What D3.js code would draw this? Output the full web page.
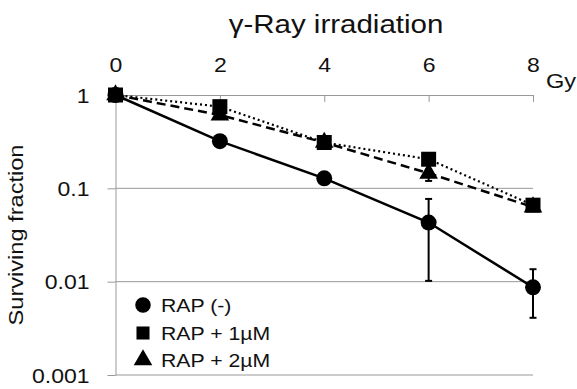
<!DOCTYPE html>
<html>
<head>
<meta charset="utf-8">
<script src="https://cdn.jsdelivr.net/npm/d3@7"></script>
<style>
  body { margin: 0; background: #fff; }
  text { font-family: "Liberation Sans", Arial, sans-serif; fill: #111; }
</style>
</head>
<body>
<script>
// data
const doses = [0, 2, 4, 6, 8];
const yTicks = [1, 0.1, 0.01, 0.001];
const yTickLabels = ["1", "0.1", "0.01", "0.001"];
const rapNone = [1, 0.32, 0.128, 0.043, 0.0087];
const rapNoneLo = [1, 0.30, 0.122, 0.0102, 0.0041];
const rapNoneHi = [1, 0.34, 0.134, 0.077, 0.0136];
const rap1 = [1, 0.75, 0.31, 0.205, 0.066];
const rap1Lo = [1, 0.73, 0.30, 0.20, 0.062];
const rap1Hi = [1, 0.77, 0.32, 0.21, 0.070];
const rap2 = [1, 0.61, 0.31, 0.145, 0.063];
const rap2Lo = [1, 0.59, 0.30, 0.12, 0.060];
const rap2Hi = [1, 0.63, 0.32, 0.16, 0.066];
const legendLabels = ["RAP (-)", "RAP + 1\u00b5M", "RAP + 2\u00b5M"];

const W = 577, H = 389;
const sx = 1.18; // text in the picture is a bit wide

const svg = d3.select("body").append("svg")
  .attr("width", W).attr("height", H);

const x = d3.scaleLinear().domain([0, 8]).range([115.5, 533]);
const y = d3.scaleLog().domain([0.001, 1]).range([375, 95]);

// gridlines
svg.append("g").selectAll("line")
  .data(yTicks.slice(1))
  .enter().append("line")
  .attr("x1", x(0)).attr("x2", x(8))
  .attr("y1", d => y(d)).attr("y2", d => y(d))
  .attr("stroke", "#999").attr("stroke-width", 1);

// top x axis, ticks pointing into the plot
const gx = svg.append("g")
  .attr("transform", `translate(0,${y(1)})`)
  .call(d3.axisTop(x).tickValues(doses).tickSizeInner(-7).tickSizeOuter(0).tickPadding(23));
gx.select(".domain").attr("stroke", "#999");
gx.selectAll(".tick line").attr("stroke", "#999");
gx.selectAll(".tick text")
  .attr("font-size", 19.5).attr("fill", "#111")
  .attr("transform", `scale(${sx},1)`);

// left y axis
const gy = svg.append("g")
  .attr("transform", `translate(${x(0)},0)`)
  .call(d3.axisLeft(y).tickValues(yTicks).tickSize(8).tickSizeOuter(0)
    .tickFormat((d, i) => yTickLabels[i]));
gy.select(".domain").attr("stroke", "#999");
gy.selectAll(".tick line").attr("stroke", "#999");
gy.selectAll(".tick text")
  .attr("font-size", 19.5).attr("fill", "#111")
  .attr("x", -26 / sx).attr("dy", "0.36em")
  .attr("transform", `scale(${sx},1)`);

// title and axis labels
function label(txt, tx, ty, size, anchor, rot) {
  const g = svg.append("g")
    .attr("transform", `translate(${tx},${ty})` + (rot ? ` rotate(${rot})` : "") + ` scale(${sx},1)`);
  g.append("text").attr("font-size", size).attr("text-anchor", anchor).text(txt);
}
label("\u03b3-Ray irradiation", 336, 33, 25, "middle");
label("Gy", 546, 88, 20, "start");
label("Surviving fraction", 22.5, 235, 20, "middle", -90);

const series = [
  { vals: rap2, lo: rap2Lo, hi: rap2Hi, shape: d3.symbolTriangle, size: 150, dash: "9,5" },
  { vals: rapNone, lo: rapNoneLo, hi: rapNoneHi, shape: d3.symbolCircle, size: 200, dash: null },
  { vals: rap1, lo: rap1Lo, hi: rap1Hi, shape: d3.symbolSquare, size: 225, dash: "2,3" }
];

const line = d3.line().x((d, i) => x(doses[i])).y(d => y(d));

// lines
series.forEach(s => {
  svg.append("path")
    .datum(s.vals)
    .attr("d", line)
    .attr("fill", "none")
    .attr("stroke", "#000")
    .attr("stroke-width", s.dash === "2,3" ? 2.2 : 2.5)
    .attr("stroke-dasharray", s.dash);
});

// error bars and markers
series.forEach(s => {
  const g = svg.append("g");
  doses.forEach((dz, i) => {
    if (s.lo[i] === s.hi[i]) return;
    const cx = x(dz);
    g.append("line").attr("x1", cx).attr("x2", cx)
      .attr("y1", y(s.lo[i])).attr("y2", y(s.hi[i]))
      .attr("stroke", "#000").attr("stroke-width", 2);
    [s.lo[i], s.hi[i]].forEach(v => {
      g.append("line").attr("x1", cx - 3.5).attr("x2", cx + 3.5)
        .attr("y1", y(v)).attr("y2", y(v))
        .attr("stroke", "#000").attr("stroke-width", 2);
    });
  });
  g.selectAll("path")
    .data(s.vals)
    .enter().append("path")
    .attr("d", d3.symbol().type(s.shape).size(s.size))
    .attr("transform", (d, i) => `translate(${x(doses[i])},${y(d)})`)
    .attr("fill", "#000");
});

// legend
const legendShapes = [d3.symbolCircle, d3.symbolSquare, d3.symbolTriangle];
const legendSizes = [190, 170, 150];
const legendY = [305, 333, 360];
legendLabels.forEach((t, i) => {
  svg.append("path")
    .attr("d", d3.symbol().type(legendShapes[i]).size(legendSizes[i]))
    .attr("transform", `translate(143,${legendY[i]})`)
    .attr("fill", "#000");
  const g = svg.append("g").attr("transform", `translate(161,${legendY[i] + 6.5}) scale(${sx},1)`);
  g.append("text").attr("font-size", 18).text(t);
});
</script>
</body>
</html>
